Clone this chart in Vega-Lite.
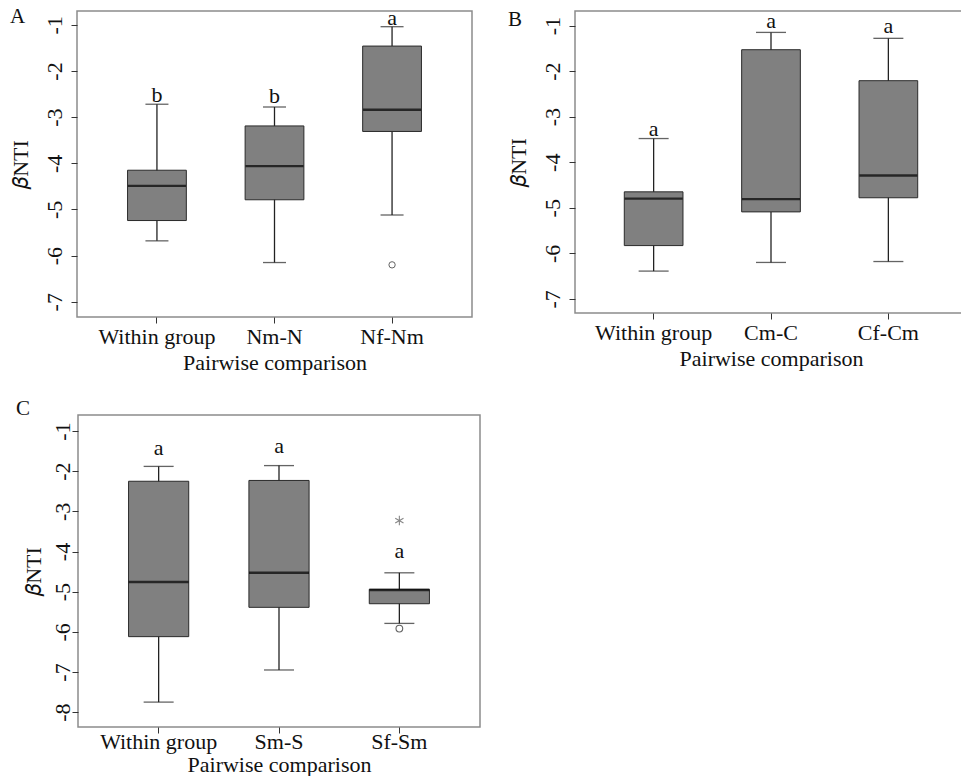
{
  "$schema": "https://vega.github.io/schema/vega-lite/v6.json",
  "padding": {"left": 8, "top": 5, "right": 0, "bottom": 0},
  "background": "white",
  "datasets": {
    "boxes": [
      {"panel": "A", "group": "Within group", "lower": -5.68, "q1": -5.24, "median": -4.49, "q3": -4.15, "upper": -2.72},
      {"panel": "A", "group": "Nm-N", "lower": -6.15, "q1": -4.79, "median": -4.06, "q3": -3.19, "upper": -2.78},
      {"panel": "A", "group": "Nf-Nm", "lower": -5.12, "q1": -3.31, "median": -2.84, "q3": -1.46, "upper": -1.04},
      {"panel": "B", "group": "Within group", "lower": -6.39, "q1": -5.83, "median": -4.8, "q3": -4.65, "upper": -3.48},
      {"panel": "B", "group": "Cm-C", "lower": -6.2, "q1": -5.09, "median": -4.81, "q3": -1.53, "upper": -1.15},
      {"panel": "B", "group": "Cf-Cm", "lower": -6.18, "q1": -4.78, "median": -4.29, "q3": -2.21, "upper": -1.28},
      {"panel": "C", "group": "Within group", "lower": -7.75, "q1": -6.12, "median": -4.76, "q3": -2.25, "upper": -1.88},
      {"panel": "C", "group": "Sm-S", "lower": -6.95, "q1": -5.39, "median": -4.53, "q3": -2.23, "upper": -1.86},
      {"panel": "C", "group": "Sf-Sm", "lower": -5.79, "q1": -5.3, "median": -4.96, "q3": -4.94, "upper": -4.53}
    ],
    "outliers": [
      {"panel": "A", "group": "Nf-Nm", "value": -6.2, "kind": "outlier"},
      {"panel": "C", "group": "Sf-Sm", "value": -5.92, "kind": "outlier"},
      {"panel": "C", "group": "Sf-Sm", "value": -3.23, "kind": "extreme"}
    ],
    "letters": [
      {"panel": "A", "group": "Within group", "y": -2.52, "label": "b"},
      {"panel": "A", "group": "Nm-N", "y": -2.55, "label": "b"},
      {"panel": "A", "group": "Nf-Nm", "y": -0.85, "label": "a"},
      {"panel": "B", "group": "Within group", "y": -3.27, "label": "a"},
      {"panel": "B", "group": "Cm-C", "y": -0.89, "label": "a"},
      {"panel": "B", "group": "Cf-Cm", "y": -1.01, "label": "a"},
      {"panel": "C", "group": "Within group", "y": -1.42, "label": "a"},
      {"panel": "C", "group": "Sm-S", "y": -1.37, "label": "a"},
      {"panel": "C", "group": "Sf-Sm", "y": -3.99, "label": "a"}
    ]
  },
  "spacing": 23,
  "vconcat": [
    {
      "spacing": 33,
      "hconcat": [
        {
          "title": {"text": "A", "dx": -67, "dy": 24},
          "width": 395,
          "height": 306,
          "encoding": {
            "x": {"field": "group", "type": "nominal", "title": "Pairwise comparison",
              "scale": {"domain": ["Within group", "Nm-N", "Nf-Nm"], "paddingInner": 0.5, "paddingOuter": 0.43}}
          },
          "layer": [
            {
              "data": {"name": "boxes"},
              "transform": [{"filter": "datum.panel === 'A'"}],
              "layer": [
                {"mark": {"type": "rule", "color": "#222", "strokeWidth": 1.3},
                  "encoding": {"y": {"field": "lower", "type": "quantitative", "title": "𝛽NTI",
                    "scale": {"domain": [-7.33, -0.7], "nice": false, "zero": false},
                    "axis": {"values": [-1, -2, -3, -4, -5, -6, -7], "labelExpr": "'' + datum.value"}}, "y2": {"field": "upper"}}},
                {"mark": {"type": "bar", "fill": "#808080", "stroke": "#2a2a2a", "strokeWidth": 1},
                  "encoding": {"y": {"field": "q1", "type": "quantitative"}, "y2": {"field": "q3"}}},
                {"mark": {"type": "tick", "color": "#222", "size": 23, "thickness": 1.3},
                  "encoding": {"y": {"field": "lower", "type": "quantitative"}}},
                {"mark": {"type": "tick", "color": "#222", "size": 23, "thickness": 1.3},
                  "encoding": {"y": {"field": "upper", "type": "quantitative"}}},
                {"mark": {"type": "tick", "color": "#000", "size": 58, "thickness": 2.4},
                  "encoding": {"y": {"field": "median", "type": "quantitative"}}}
              ]
            },
            {
              "data": {"name": "outliers"},
              "transform": [{"filter": "datum.panel === 'A'"}],
              "mark": {"type": "point", "filled": false, "color": "#222", "size": 40, "strokeWidth": 1},
              "encoding": {"y": {"field": "value", "type": "quantitative"}}
            },
            {
              "data": {"name": "letters"},
              "transform": [{"filter": "datum.panel === 'A'"}],
              "mark": {"type": "text", "font": "Liberation Serif", "fontSize": 22, "baseline": "middle", "color": "#111"},
              "encoding": {"y": {"field": "y", "type": "quantitative"}, "text": {"field": "label"}}
            }
          ]
        },
        {
          "title": {"text": "B", "dx": -67, "dy": 24},
          "width": 392,
          "height": 302,
          "encoding": {
            "x": {"field": "group", "type": "nominal", "title": "Pairwise comparison",
              "scale": {"domain": ["Within group", "Cm-C", "Cf-Cm"], "paddingInner": 0.5, "paddingOuter": 0.42}}
          },
          "layer": [
            {
              "data": {"name": "boxes"},
              "transform": [{"filter": "datum.panel === 'B'"}],
              "layer": [
                {"mark": {"type": "rule", "color": "#222", "strokeWidth": 1.3},
                  "encoding": {"y": {"field": "lower", "type": "quantitative", "title": "𝛽NTI",
                    "scale": {"domain": [-7.31, -0.68], "nice": false, "zero": false},
                    "axis": {"values": [-1, -2, -3, -4, -5, -6, -7], "labelExpr": "'' + datum.value"}}, "y2": {"field": "upper"}}},
                {"mark": {"type": "bar", "fill": "#808080", "stroke": "#2a2a2a", "strokeWidth": 1},
                  "encoding": {"y": {"field": "q1", "type": "quantitative"}, "y2": {"field": "q3"}}},
                {"mark": {"type": "tick", "color": "#222", "size": 30, "thickness": 1.3},
                  "encoding": {"y": {"field": "lower", "type": "quantitative"}}},
                {"mark": {"type": "tick", "color": "#222", "size": 30, "thickness": 1.3},
                  "encoding": {"y": {"field": "upper", "type": "quantitative"}}},
                {"mark": {"type": "tick", "color": "#000", "size": 58, "thickness": 2.4},
                  "encoding": {"y": {"field": "median", "type": "quantitative"}}}
              ]
            },
            {
              "data": {"name": "letters"},
              "transform": [{"filter": "datum.panel === 'B'"}],
              "mark": {"type": "text", "font": "Liberation Serif", "fontSize": 22, "baseline": "middle", "color": "#111"},
              "encoding": {"y": {"field": "y", "type": "quantitative"}, "text": {"field": "label"}}
            }
          ]
        }
      ]
    },
    {
      "spacing": -71,
      "hconcat": [
        {
          "width": 1,
          "height": 1,
          "view": {"stroke": null},
          "data": {"values": []},
          "mark": {"type": "point", "opacity": 0},
          "encoding": {}
        },
        {
          "title": {"text": "C", "dx": -62, "dy": 8},
          "width": 402,
          "height": 312,
          "encoding": {
            "x": {"field": "group", "type": "nominal", "title": "Pairwise comparison",
              "scale": {"domain": ["Within group", "Sm-S", "Sf-Sm"], "paddingInner": 0.5, "paddingOuter": 0.42},
              "axis": {"labelPadding": -2, "titlePadding": 2}}
          },
          "layer": [
            {
              "data": {"name": "boxes"},
              "transform": [{"filter": "datum.panel === 'C'"}],
              "layer": [
                {"mark": {"type": "rule", "color": "#222", "strokeWidth": 1.3},
                  "encoding": {"y": {"field": "lower", "type": "quantitative", "title": "𝛽NTI",
                    "scale": {"domain": [-8.37, -0.6], "nice": false, "zero": false},
                    "axis": {"values": [-1, -2, -3, -4, -5, -6, -7, -8], "labelExpr": "'' + datum.value", "labelPadding": -2, "titlePadding": 6}}, "y2": {"field": "upper"}}},
                {"mark": {"type": "bar", "fill": "#808080", "stroke": "#2a2a2a", "strokeWidth": 1},
                  "encoding": {"y": {"field": "q1", "type": "quantitative"}, "y2": {"field": "q3"}}},
                {"mark": {"type": "tick", "color": "#222", "size": 30, "thickness": 1.3},
                  "encoding": {"y": {"field": "lower", "type": "quantitative"}}},
                {"mark": {"type": "tick", "color": "#222", "size": 30, "thickness": 1.3},
                  "encoding": {"y": {"field": "upper", "type": "quantitative"}}},
                {"mark": {"type": "tick", "color": "#000", "size": 60, "thickness": 2.4},
                  "encoding": {"y": {"field": "median", "type": "quantitative"}}}
              ]
            },
            {
              "data": {"name": "outliers"},
              "transform": [{"filter": "datum.panel === 'C'"}],
              "mark": {"type": "point", "filled": false, "strokeWidth": 1.1},
              "encoding": {
                "y": {"field": "value", "type": "quantitative"},
                "shape": {"field": "kind", "type": "nominal", "legend": null,
                  "scale": {"domain": ["outlier", "extreme"], "range": ["circle", "M0,-1L0,1M-0.87,-0.5L0.87,0.5M-0.87,0.5L0.87,-0.5"]}},
                "size": {"field": "kind", "type": "nominal", "legend": null,
                  "scale": {"domain": ["outlier", "extreme"], "range": [45, 90]}},
                "color": {"field": "kind", "type": "nominal", "legend": null,
                  "scale": {"domain": ["outlier", "extreme"], "range": ["#222", "#555"]}}
              }
            },
            {
              "data": {"name": "letters"},
              "transform": [{"filter": "datum.panel === 'C'"}],
              "mark": {"type": "text", "font": "Liberation Serif", "fontSize": 22, "baseline": "middle", "color": "#111"},
              "encoding": {"y": {"field": "y", "type": "quantitative"}, "text": {"field": "label"}}
            }
          ]
        }
      ]
    }
  ],
  "config": {
    "view": {"stroke": "#8c8c8c", "strokeWidth": 1.5},
    "title": {"anchor": "start", "frame": "group", "offset": 0, "baseline": "top", "font": "Liberation Serif", "fontSize": 21, "fontWeight": "normal", "color": "#111"},
    "axis": {"domain": false, "grid": false, "labelFont": "Liberation Serif", "labelFontSize": 22, "titleFont": "Liberation Serif", "titleFontSize": 22, "titleFontWeight": "normal", "labelColor": "#111", "titleColor": "#111", "tickColor": "#333", "tickSize": 6},
    "axisY": {"labelAngle": -90, "labelAlign": "center", "labelBaseline": "bottom", "labelPadding": 5, "titlePadding": 11},
    "axisX": {"labelAngle": 0, "labelPadding": 3, "titlePadding": 5}
  }
}
